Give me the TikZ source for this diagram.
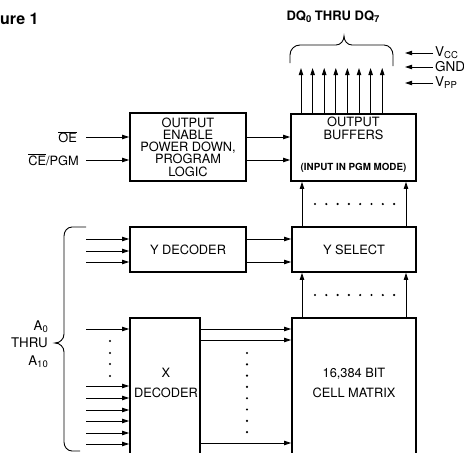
\documentclass[tikz,border=0pt]{standalone}
\usepackage{fontspec}
\setmainfont{TeX Gyre Heros}
\usetikzlibrary{arrows.meta,positioning}
\newcommand{\lowsub}[1]{\raisebox{-0.3ex}{\fontsize{9.5}{9.5}\selectfont #1}}
\newcommand{\barred}[1]{$\overline{\mbox{#1}}$}

\begin{document}
\begin{tikzpicture}[x=1pt,y=-1pt,
  box/.style={draw,line width=1.7pt,inner sep=0pt,align=center,font=\fontsize{12.8}{12.3}\selectfont},
  txt/.style={inner sep=0pt,align=center,font=\fontsize{12.8}{12.3}\selectfont},
  arrow/.style={-{Triangle[length=7pt,width=4.4pt]},line width=0.9pt},
  dot/.style={circle,fill,inner sep=0pt,minimum size=2.4pt}]
\useasboundingbox (0,0) rectangle (464,453);
% title and data bus
\node[txt,anchor=west,font=\bfseries\fontsize{16}{16}\selectfont] (fig) at (0,19) {ure 1};
\node[txt,font=\bfseries\fontsize{13}{13}\selectfont] (dq) at (333,17) {DQ\lowsub{0} THRU DQ\lowsub{7}};
% blocks
\node[box,minimum width=116pt,minimum height=68pt] (logic) at (188,147) {OUTPUT\\ENABLE\\POWER DOWN,\\PROGRAM\\LOGIC};
\node[box,minimum width=125pt,minimum height=67pt] (buffers) at (353.5,147.5) {};
\node[txt,below=4pt of buffers.north] (buftxt) {OUTPUT\\BUFFERS};
\node[txt,above=9pt of buffers.south,font=\bfseries\fontsize{9.8}{9.8}\selectfont] (pgm) {(INPUT IN PGM MODE)};
\node[box,minimum width=124pt,minimum height=45pt] (ysel) at (354,249.5) {Y SELECT};
\node[box,minimum width=116pt,minimum height=45pt] (ydec) at (188,249.5) {Y DECODER};
\node[box,minimum width=70pt,minimum height=160pt] (xdec) at (165,398) {};
\node[txt] (xtxt) at (166,383) {X\\[8pt]DECODER};
\node[box,minimum width=124pt,minimum height=160pt] (matrix) at (354,398) {};
\node[txt] (mtxt) at (354,383) {16,384 BIT\\[8pt]CELL MATRIX};
% control inputs
\node[txt,anchor=east] (oe) at (77,137) {\barred{OE}};
\node[txt,anchor=east] (ce) at (79,160) {\barred{CE}/PGM};
\coordinate (oein) at (86,137);
\coordinate (cein) at (86,160);
\draw[arrow] (oein) -- (logic.west |- oein);
\draw[arrow] (cein) -- (logic.west |- cein);
\draw[arrow] (logic.east |- oein) -- (buffers.west |- oein);
\draw[arrow] (logic.east |- cein) -- (buffers.west |- cein);
% outputs and supplies
\foreach \i in {0,...,7} {
  \coordinate (dq\i) at (301+\i*11.6,68);
  \draw[arrow] (buffers.north -| dq\i) -- (dq\i);
}
\draw[line width=0.9pt] (290,63) -- (290,55) to[out=90,in=180] (300,45) -- (336,45)
  to[out=0,in=-90] (344,36) to[out=-90,in=180] (352,45) -- (384,45) to[out=0,in=90] (393,55) -- (393,66);
\foreach \n/\y/\t in {vcc/53/V\lowsub{CC},gnd/67/GND,vpp/83/V\lowsub{PP}} {
  \node[txt,anchor=west,font=\fontsize{13.5}{13.5}\selectfont] (\n) at (435,\y) {\t};
  \draw[arrow] (\n.west) ++(-2,0) -- (405,\y);
}
% column path
\coordinate (cl) at (302,0);
\coordinate (cr) at (406,0);
\draw[arrow] (ysel.north -| cl) -- (buffers.south -| cl);
\draw[arrow] (ysel.north -| cr) -- (buffers.south -| cr);
\draw[arrow] (matrix.north -| cl) -- (ysel.south -| cl);
\draw[arrow] (matrix.north -| cr) -- (ysel.south -| cr);
\foreach \i in {0,...,7} {
  \node[dot] at (315+\i*11.3,204) {};
  \node[dot] at (315+\i*11.3,295) {};
}
% y address lines
\foreach \y in {239,251,262} {
  \coordinate (ya\y) at (86,\y);
  \draw[arrow] (ya\y) -- (ydec.west |- ya\y);
}
\coordinate (ys1) at (0,239);
\coordinate (ys2) at (0,262);
\draw[arrow] (ydec.east |- ys1) -- (ysel.west |- ys1);
\draw[arrow] (ydec.east |- ys2) -- (ysel.west |- ys2);
% x address lines
\foreach \y in {329,386,398,410,421,433,444} {
  \coordinate (xa\y) at (86,\y);
  \draw[arrow] (xa\y) -- (xdec.west |- xa\y);
}
\foreach \y in {341,353,364,376} \node[dot] at (110,\y) {};
\foreach \y in {329,340,443} {
  \coordinate (xr\y) at (0,\y);
  \draw[arrow] (xdec.east |- xr\y) -- (matrix.west |- xr\y);
}
\foreach \i in {0,...,7} \node[dot] at (247,353+\i*11.3) {};
% address brace
\draw[line width=0.9pt] (86,227) -- (72,227) to[out=180,in=90] (64,236) -- (64,334)
  to[out=-90,in=0] (55,343) to[out=0,in=90] (64,352) -- (64,442) to[out=-90,in=180] (72,451) -- (80,451);
\node[txt,anchor=east,align=right,font=\fontsize{13.3}{13.3}\selectfont] (addr) at (48,344) {A\lowsub{0}\\[4pt]THRU\\[4pt]A\lowsub{10}};
\end{tikzpicture}
\end{document}
